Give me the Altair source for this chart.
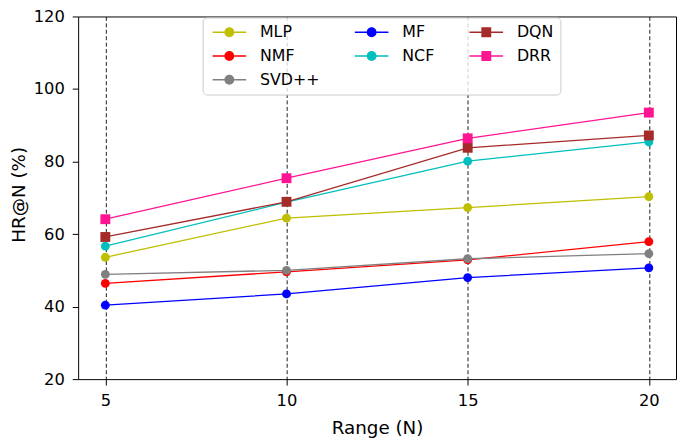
import altair as alt
import pandas as pd

# ---- data ----
N_VALUES = [5, 10, 15, 20]
MODELS = ["MLP", "NMF", "SVD++", "MF", "NCF", "DQN", "DRR"]
MLP = [53.6, 64.4, 67.3, 70.3]
NMF = [46.4, 49.6, 52.9, 57.9]
SVDPP = [48.9, 50.0, 53.2, 54.6]
MF = [40.4, 43.5, 48.0, 50.7]
NCF = [56.7, 68.8, 80.1, 85.4]
DQN = [59.2, 68.9, 83.8, 87.2]
DRR = [64.1, 75.4, 86.4, 93.5]
SERIES = [MLP, NMF, SVDPP, MF, NCF, DQN, DRR]
MARKERS = ["circle", "circle", "circle", "circle", "circle", "square", "square"]
COLORS = ["#bfbf00", "#ff0000", "#808080", "#0000ff", "#00bfbf", "#a52a2a", "#ff1493"]
X_TICKS = [5, 10, 15, 20]
Y_TICKS = [20, 40, 60, 80, 100, 120]

# domain order that makes Vega's 3-column legend read
# MLP/NMF/SVD++ | MF/NCF | DQN/DRR
LEGEND_ORDER = ["MLP", "NMF", "DRR", "MF", "NCF", "SVD++", "DQN"]

rows = []
for i, (name, vals, mk) in enumerate(zip(MODELS, SERIES, MARKERS)):
    for n, v in zip(N_VALUES, vals):
        rows.append({"model": name, "N": n, "value": v, "marker": mk, "draw": i})
df = pd.DataFrame(rows)

color_of = dict(zip(MODELS, COLORS))
marker_of = dict(zip(MODELS, MARKERS))
color_range = [color_of[m] for m in LEGEND_ORDER]

CIRCLE_ENTRY = ("M-1,-0.15H1.4V0.15H-1Z M3.4,-0.15H5.8V0.15H3.4Z "
                "M3.4,0A1,1,0,1,1,1.4,0A1,1,0,1,1,3.4,0Z")
SQUARE_ENTRY = ("M-1,-0.15H1.4V0.15H-1Z M3.4,-0.15H5.8V0.15H3.4Z "
                "M1.4,-1H3.4V1H1.4Z")
shape_range = [CIRCLE_ENTRY if marker_of[m] == "circle" else SQUARE_ENTRY
               for m in LEGEND_ORDER]

FONT = "DejaVu Sans"

x_enc = alt.X(
    "N:Q",
    scale=alt.Scale(domain=[4.25, 20.75], nice=False, zero=False),
    axis=alt.Axis(
        values=X_TICKS, format="d", title="Range (N)",
        grid=True, gridDash=[4, 2.5], gridColor="black", gridWidth=0.9,
        domain=False, tickSize=6, tickColor="black", labelPadding=8,
        labelFontSize=16.5, labelColor="black", labelFont=FONT,
        titleFontSize=18.5, titleFont=FONT, titleFontWeight="normal",
        titleColor="black", titleBaseline="middle", titleY=49,
    ),
)
y_enc = alt.Y(
    "value:Q",
    scale=alt.Scale(domain=[20, 120], nice=False, zero=False),
    axis=alt.Axis(
        values=Y_TICKS, title="HR@N (%)", grid=False, domain=False,
        tickSize=6, tickColor="black", labelPadding=8,
        labelFontSize=16.5, labelColor="black", labelFont=FONT,
        titleFontSize=18.5, titleFont=FONT, titleFontWeight="normal",
        titleColor="black", titleBaseline="middle", titleX=-60, titleY=180,
        titleAngle=270,
    ),
)

legend = alt.Legend(
    title=None, orient="none", legendX=126, legendY=1, columns=3,
    symbolSize=100, symbolOpacity=1, symbolStrokeWidth=0,
    labelOffset=35, labelFontSize=16, labelFont=FONT, labelColor="black",
    labelLimit=200, padding=7, rowPadding=8, columnPadding=32,
    strokeColor="#cccccc", fillColor="rgba(255,255,255,0.8)", cornerRadius=4,
)

model_scale = dict(domain=LEGEND_ORDER, range=color_range)

base = alt.Chart(df)

legend_layer = base.mark_point(filled=True, opacity=0, size=100).encode(
    x=x_enc, y=y_enc,
    color=alt.Color("model:N", scale=alt.Scale(**model_scale), legend=legend),
    shape=alt.Shape("model:N", scale=alt.Scale(domain=LEGEND_ORDER, range=shape_range), legend=legend),
)

lines = base.mark_line(strokeWidth=1.3).encode(
    x=x_enc, y=y_enc,
    stroke=alt.Stroke("model:N", scale=alt.Scale(**model_scale), legend=None),
    order="N:Q",
)

circles = base.transform_filter(alt.datum.marker == "circle").mark_point(
    shape="circle", filled=True, size=80, opacity=1
).encode(
    x=x_enc, y=y_enc,
    fill=alt.Fill("model:N", scale=alt.Scale(**model_scale), legend=None),
    order="draw:Q",
)

squares = base.transform_filter(alt.datum.marker == "square").mark_point(
    shape="square", filled=True, size=100, opacity=1
).encode(
    x=x_enc, y=y_enc,
    fill=alt.Fill("model:N", scale=alt.Scale(**model_scale), legend=None),
    order="draw:Q",
)

chart = alt.layer(legend_layer, lines, circles, squares).properties(
    width=605, height=367,
    autosize=alt.AutoSizeParams(type="none"),
    padding={"left": 71, "top": 6, "right": 1, "bottom": 59},
    background="white",
).configure(
    font=FONT,
    view=alt.ViewConfig(stroke="black", strokeWidth=1),
)

chart.save("out.html", embed_options={"renderer": "svg", "actions": False})
